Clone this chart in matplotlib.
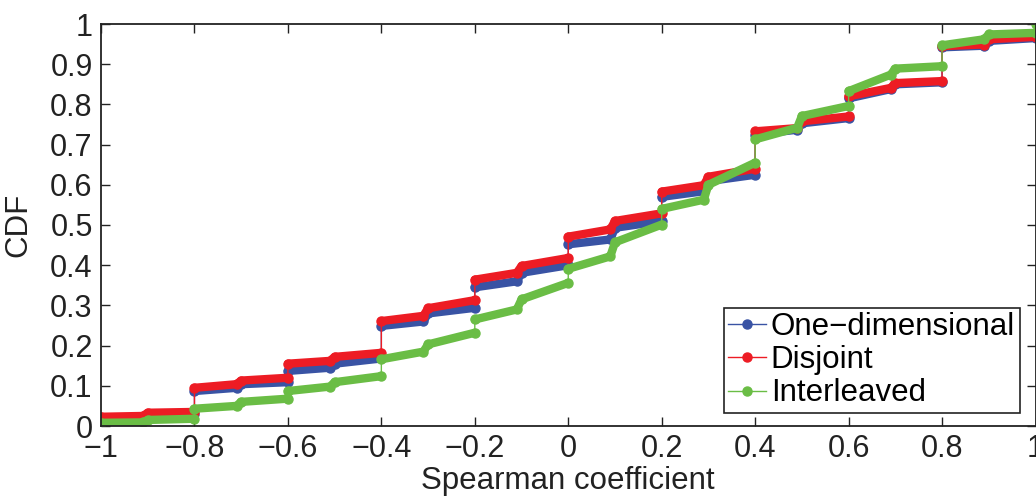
import matplotlib
matplotlib.use("Agg")
import matplotlib.pyplot as plt

plt.rcParams['font.family'] = ['Liberation Sans', 'DejaVu Sans']

# CDF of the Spearman coefficient, vertices
# (a repeated x marks a vertical jump)
x_pts = [-1, -0.91, -0.90, -0.8, -0.8, -0.71, -0.70, -0.6, -0.6, -0.51, -0.50, -0.4,
         -0.4, -0.31, -0.30, -0.2, -0.2, -0.11, -0.10, 0, 0, 0.09, 0.10, 0.2,
         0.2, 0.29, 0.30, 0.4, 0.4, 0.49, 0.50, 0.6, 0.6, 0.69, 0.70, 0.8,
         0.8, 0.89, 0.90, 1.0]

y_one = [0.018, 0.021, 0.027, 0.030, 0.087, 0.095, 0.104, 0.109,
         0.137, 0.145, 0.155, 0.168, 0.249, 0.260, 0.280, 0.294,
         0.345, 0.360, 0.381, 0.400, 0.452, 0.464, 0.493, 0.510,
         0.570, 0.584, 0.609, 0.625, 0.725, 0.737, 0.753, 0.766,
         0.815, 0.838, 0.850, 0.855, 0.942, 0.946, 0.958, 0.965]

y_dis = [0.023, 0.025, 0.033, 0.035, 0.095, 0.104, 0.113, 0.120,
         0.155, 0.162, 0.172, 0.182, 0.261, 0.274, 0.293, 0.313,
         0.364, 0.381, 0.398, 0.418, 0.471, 0.489, 0.510, 0.529,
         0.583, 0.599, 0.620, 0.640, 0.733, 0.741, 0.758, 0.770,
         0.820, 0.841, 0.853, 0.858, 0.945, 0.949, 0.962, 0.968]

x_int = x_pts + [1.0]
y_int = [0.008, 0.009, 0.015, 0.018, 0.043, 0.050, 0.060, 0.068,
         0.087, 0.098, 0.109, 0.124, 0.166, 0.185, 0.203, 0.232,
         0.265, 0.290, 0.315, 0.356, 0.391, 0.422, 0.457, 0.501,
         0.540, 0.563, 0.600, 0.655, 0.713, 0.742, 0.771, 0.796,
         0.833, 0.874, 0.889, 0.895, 0.947, 0.962, 0.974, 0.978, 1.0]

labels = ['One\u2212dimensional', 'Disjoint', 'Interleaved']
colors = ['#3953a4', '#ed1c24', '#6abd45']

xticks = [-1, -0.8, -0.6, -0.4, -0.2, 0, 0.2, 0.4, 0.6, 0.8, 1]
xticklabels = ['\u22121', '\u22120.8', '\u22120.6', '\u22120.4', '\u22120.2',
               '0', '0.2', '0.4', '0.6', '0.8', '1']
yticks = [0, 0.1, 0.2, 0.3, 0.4, 0.5, 0.6, 0.7, 0.8, 0.9, 1]
yticklabels = ['0', '0.1', '0.2', '0.3', '0.4', '0.5', '0.6', '0.7', '0.8', '0.9', '1']

fig = plt.figure(figsize=(10.36, 4.97), dpi=100)
ax = fig.add_axes([101 / 1036, 1 - 426 / 497, 934.5 / 1036, 402 / 497])

series = [(x_pts, y_one), (x_pts, y_dis), (x_int, y_int)]
for (xs, ys), lab, col in zip(series, labels, colors):
    # thin step line with the dots
    ax.plot(xs, ys, color=col, lw=1, marker='o', ms=6.5, mec=col, label=lab)
    # thick runs between the jumps
    start = 0
    for i in range(1, len(xs) + 1):
        if i == len(xs) or xs[i] == xs[i - 1]:
            ax.plot(xs[start:i], ys[start:i], color=col, lw=6,
                    solid_capstyle='round', solid_joinstyle='round')
            start = i

ax.set_xlim(-1, 1)
ax.set_ylim(0, 1)
ax.set_xticks(xticks)
ax.set_xticklabels(xticklabels)
ax.set_yticks(yticks)
ax.set_yticklabels(yticklabels)
ax.tick_params(direction='in', length=6.5, width=1, labelsize=22, pad=6,
               top=True, right=True, colors='#222222', labelcolor='#222222')
for s in ax.spines.values():
    s.set_linewidth(1.3)
    s.set_color('#222222')

ax.set_xlabel('Spearman coefficient', fontsize=22.5, labelpad=1, color='#222222')
ax.set_ylabel('CDF', fontsize=22.5, labelpad=12, color='#222222')

leg = ax.legend(loc='lower right', bbox_to_anchor=(0.983, 0.032), borderaxespad=0,
                fontsize=22.5, handlelength=1.2, handletextpad=0.15,
                labelspacing=0.1, borderpad=0.15, fancybox=False,
                framealpha=1, edgecolor='#222222')
leg.get_frame().set_linewidth(1.2)

fig.savefig('out.png', dpi=100)
